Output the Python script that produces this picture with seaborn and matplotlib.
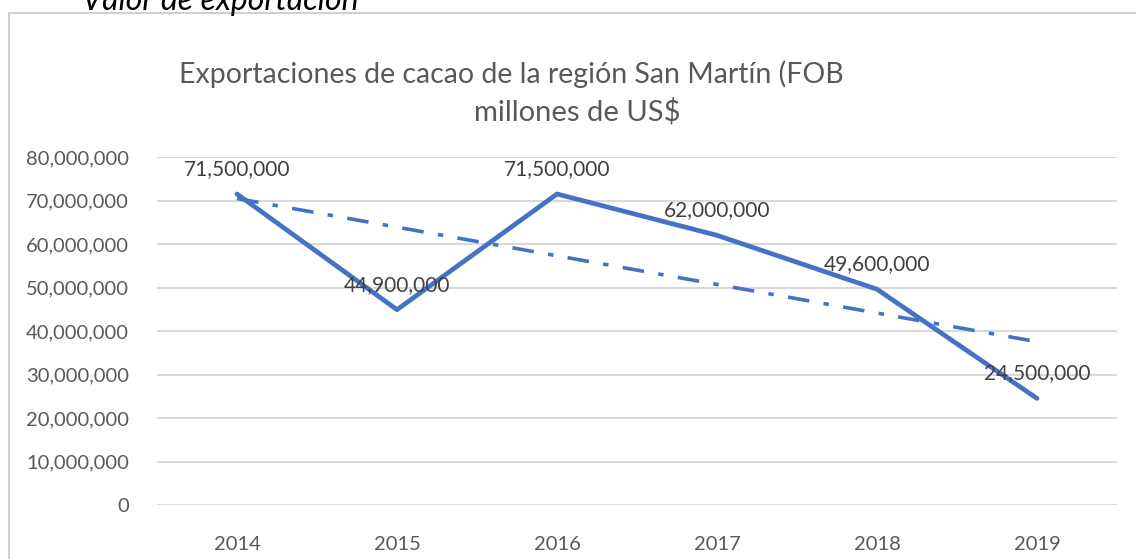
import matplotlib
matplotlib.use("Agg")
import matplotlib.pyplot as plt
import matplotlib.ticker as mticker
import pandas as pd
import seaborn as sns

years = ["2014", "2015", "2016", "2017", "2018", "2019"]
fob_values = [71500000, 44900000, 71500000, 62000000, 49600000, 24500000]
y_ticks = [0, 10000000, 20000000, 30000000, 40000000, 50000000, 60000000, 70000000, 80000000]

df = pd.DataFrame({"pos": range(len(years)), "year": years, "fob": fob_values})

sns.set_style("white")
plt.rcParams["font.family"] = ["Lato", "DejaVu Sans"]

blue = "#4472C4"
gray_text = "#595959"

fig = plt.figure(figsize=(11.36, 5.59), dpi=100)
ax = fig.add_axes([0.1382, 0.0966, 0.8451, 0.6225])

sns.lineplot(data=df, x="pos", y="fob", ax=ax, color=blue, linewidth=3.4)
sns.regplot(data=df, x="pos", y="fob", ax=ax, ci=None, scatter=False,
            line_kws={"color": blue, "linewidth": 2.6, "linestyle": (0, (6, 4, 1.5, 4))})

for x, v in zip(df["pos"], df["fob"]):
    ax.annotate(f"{v:,}", (x, v), xytext=(0, 18), textcoords="offset points",
                ha="center", va="center", fontsize=15, color="#404040")

ax.set_xlim(-0.5, len(years) - 0.5)
ax.set_ylim(0, 80000000)
ax.set_xticks(range(len(years)))
ax.set_xticklabels(years)
ax.set_yticks(y_ticks)
ax.yaxis.set_major_formatter(mticker.FuncFormatter(lambda v, p: f"{int(v):,}"))
ax.tick_params(axis="both", length=0, labelsize=14.5, labelcolor=gray_text)
ax.tick_params(axis="y", pad=20)
ax.tick_params(axis="x", pad=22)
ax.grid(axis="y", color="#D9D9D9", linewidth=1.5)
ax.set_axisbelow(True)
for s in ax.spines.values():
    s.set_visible(False)
ax.set_xlabel("")
ax.set_ylabel("")

# Excel centres each title line on its own
fig.text(0.450, 0.868, "Exportaciones de cacao de la región San Martín (FOB",
         ha="center", va="center", fontsize=20.5, color=gray_text)
fig.text(0.508, 0.800, "millones de US$",
         ha="center", va="center", fontsize=21, color=gray_text)
fig.text(0.072, 0.982, "Valor de exportación", ha="left", va="baseline",
         fontsize=23, style="italic", color="black")

border = plt.Line2D([0.0075, 0.0075, 1.0], [0.0, 0.977, 0.977], transform=fig.transFigure,
                    color="#D0D0D0", linewidth=1.5)
fig.add_artist(border)

fig.savefig("out.png", dpi=100)
